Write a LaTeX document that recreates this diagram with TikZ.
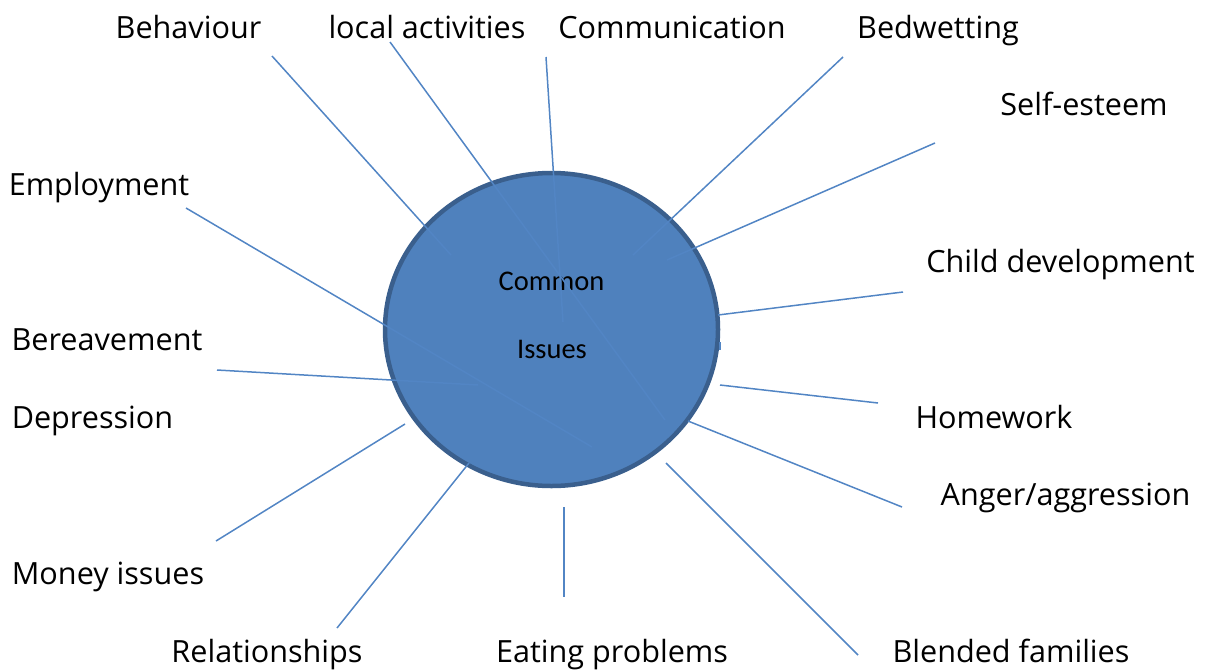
\documentclass[tikz,border=0pt]{standalone}
\usepackage{fontspec}
\setmainfont{Open Sans}
\newfontfamily\centerfont{Carlito}
\usetikzlibrary{shapes.geometric}
\definecolor{circfill}{HTML}{4F81BD}
\definecolor{circedge}{HTML}{3A5F8D}
\definecolor{spoke}{HTML}{5285C4}
\tikzset{
  lbl/.style={anchor=base, inner sep=0pt, font=\fontsize{30.6}{33}\selectfont, text=black},
  ctext/.style={anchor=base, inner sep=0pt, font=\centerfont\fontsize{28.5}{30}\selectfont, text=black},
  spokeline/.style={draw=spoke, line width=1.5pt},
  hub/.style={ellipse, draw=circedge, line width=4.5pt, fill=circfill, minimum width=333pt, minimum height=313pt, inner sep=0pt}
}
\begin{document}
\begin{tikzpicture}[x=1pt,y=-1pt]
\useasboundingbox (0,0) rectangle (1206,670);
\node[hub] (hubc) at (551.5,329.5) {};
\node[ctext] (common) at (551.5,290) {Common};
\node[ctext] (issues) at (552,358) {Issues};

% labels
\node[lbl] (behaviour) at (188.5,38) {Behaviour};
\node[lbl] (local) at (427,38) {local activities};
\node[lbl] (communication) at (672,38) {Communication};
\node[lbl] (bedwetting) at (938,38) {Bedwetting};
\node[lbl] (selfesteem) at (1084,115) {Self-esteem};
\node[lbl] (employment) at (99,195) {Employment};
\node[lbl] (childdev) at (1060.5,272) {Child development};
\node[lbl] (bereavement) at (107,350) {Bereavement};
\node[lbl] (depression) at (92.5,428) {Depression};
\node[lbl] (homework) at (994,428) {Homework};
\node[lbl] (anger) at (1065.5,505) {Anger/aggression};
\node[lbl] (money) at (108,584) {Money issues};
\node[lbl] (relationships) at (267,662) {Relationships};
\node[lbl] (eating) at (612,662) {Eating problems};
\node[lbl] (blended) at (1011,662) {Blended families};

% spoke end points
\coordinate (b1) at (272,56);   \coordinate (b2) at (451,255);
\coordinate (l1) at (390,42);   \coordinate (l2) at (665,420);
\coordinate (c1) at (546,57);   \coordinate (c2) at (563,322);
\coordinate (w1) at (843,57);   \coordinate (w2) at (633,255);
\coordinate (s1) at (935,143);  \coordinate (s2) at (667,260);
\coordinate (d1) at (903,292);  \coordinate (d2) at (718,315);
\coordinate (t1) at (720,342);  \coordinate (t2) at (720,350);
\coordinate (h1) at (720,385);  \coordinate (h2) at (878,403);
\coordinate (a1) at (688,421);  \coordinate (a2) at (902,507);
\coordinate (f1) at (666,463);  \coordinate (f2) at (858,655);
\coordinate (e1) at (564,507);  \coordinate (e2) at (564,597);
\coordinate (r1) at (337,628);  \coordinate (r2) at (469,463);
\coordinate (m1) at (216,541);  \coordinate (m2) at (405,424);
\coordinate (v1) at (217,370);  \coordinate (v2) at (478,385);
\coordinate (p1) at (186,208);  \coordinate (p2) at (592,447);

\draw[spokeline] (b1) -- (b2);
\draw[spokeline] (l1) -- (l2);
\draw[spokeline] (c1) -- (c2);
\draw[spokeline] (w1) -- (w2);
\draw[spokeline] (s1) -- (s2);
\draw[spokeline] (d1) -- (d2);
\draw[spokeline] (t1) -- (t2);
\draw[spokeline] (h1) -- (h2);
\draw[spokeline] (a1) -- (a2);
\draw[spokeline] (f1) -- (f2);
\draw[spokeline] (e1) -- (e2);
\draw[spokeline] (r1) -- (r2);
\draw[spokeline] (m1) -- (m2);
\draw[spokeline] (v1) -- (v2);
\draw[spokeline] (p1) -- (p2);
\end{tikzpicture}
\end{document}
